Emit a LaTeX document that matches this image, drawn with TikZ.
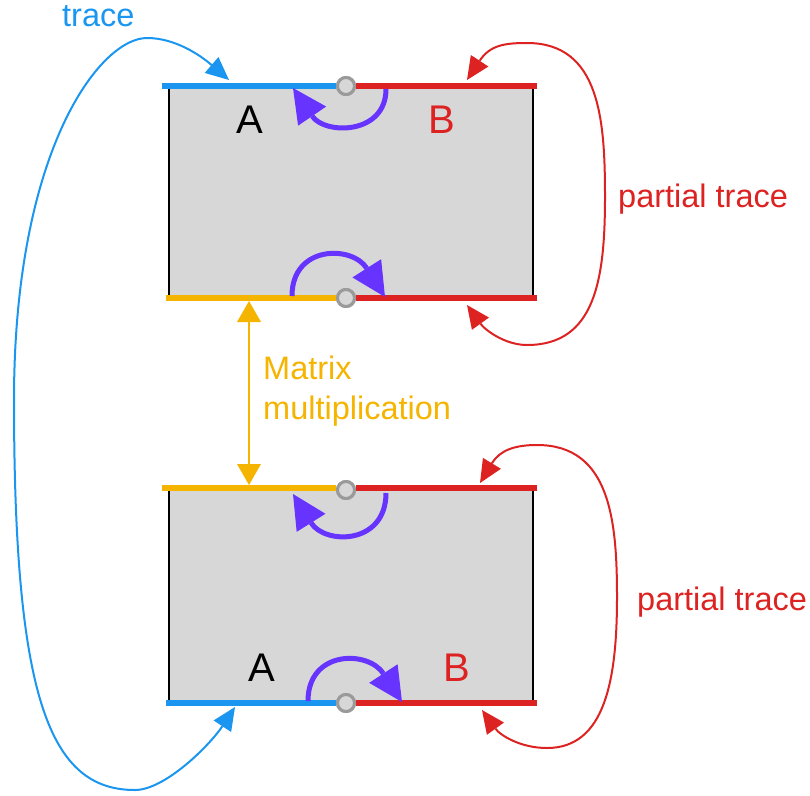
\documentclass[tikz,border=0pt]{standalone}
\usepackage{fontspec}
\setmainfont{Liberation Sans}
\usetikzlibrary{arrows.meta}

\definecolor{traceblue}{HTML}{1A96F0}
\definecolor{ptred}{HTML}{DD2222}
\definecolor{mmyellow}{HTML}{F5B400}
\definecolor{swapviolet}{HTML}{6633FF}
\definecolor{boxgray}{HTML}{D7D7D7}
\definecolor{ringgray}{HTML}{9A9A9A}

\begin{document}
\begin{tikzpicture}[x=1pt,y=-1pt,
  box/.style={fill=boxgray, draw=none},
  side/.style={black, line width=2pt},
  wire/.style={line width=5.5pt},
  ring/.style={circle, draw=ringgray, line width=3pt, fill=boxgray,
               minimum size=17pt, inner sep=0pt},
  lbl/.style={inner sep=0pt, font=\fontsize{32.5}{38}\selectfont},
  sys/.style={inner sep=0pt, font=\fontsize{40}{40}\selectfont},
  thinloop/.style={line width=2pt,
    {Triangle[length=23pt,width=21pt,line width=0pt]}-{Triangle[length=23pt,width=21pt,line width=0pt]}},
  swaparrow/.style={swapviolet, line width=5pt,
    -{Triangle[length=34pt,width=34pt,line width=0pt]}},
]
\useasboundingbox (0,0) rectangle (810,795);

% ---- upper operator ----
\fill[box] (169,86) rectangle (533,298);
\draw[side] (169,86) -- (169,298);
\draw[side] (533,86) -- (533,298);
\node[ring] (r1) at (346,86) {};
\node[ring] (r2) at (346,298) {};
\coordinate (u1l) at (162,86);  \coordinate (u1r) at (537,86);
\coordinate (d1l) at (166,298); \coordinate (d1r) at (537,298);
\draw[wire, traceblue] (u1l) -- (r1.west);
\draw[wire, ptred] (r1.east) -- (u1r);
\draw[wire, mmyellow] (d1l) -- (r2.west);
\draw[wire, ptred] (r2.east) -- (d1r);
\node[ring] at (r1) {};
\node[ring] at (r2) {};

% ---- lower operator ----
\fill[box] (169,488) rectangle (533,703);
\draw[side] (169,488) -- (169,703);
\draw[side] (533,488) -- (533,703);
\node[ring] (r3) at (346,490) {};
\node[ring] (r4) at (346,703) {};
\coordinate (u2l) at (162,488); \coordinate (u2r) at (537,488);
\coordinate (d2l) at (166,703); \coordinate (d2r) at (537,703);
\draw[wire, mmyellow] (u2l) -- (r3.west |- u2l);
\draw[wire, ptred] (r3.east |- u2r) -- (u2r);
\draw[wire, traceblue] (d2l) -- (r4.west);
\draw[wire, ptred] (r4.east) -- (d2r);
\node[ring] at (r3) {};
\node[ring] at (r4) {};

% ---- subsystem labels ----
\node[sys, anchor=base] (a1) at (250,133) {A};
\node[sys, anchor=base, ptred] (b1) at (442,133) {B};
\node[sys, anchor=base] (a2) at (262,681) {A};
\node[sys, anchor=base, ptred] (b2) at (457,681) {B};

% ---- swap arrows ----
\draw[swaparrow] (386,89) .. controls (386,135) and (325,135) .. (293,88);
\draw[swaparrow] (292,296) .. controls (292,245) and (352,245) .. (385,297);
\draw[swaparrow] (386,493) .. controls (386,545) and (325,545) .. (293,494);
\draw[swaparrow] (308,701) .. controls (308,650) and (368,650) .. (402,702);

% ---- trace ----
\coordinate (tA) at (229,80);
\coordinate (tB) at (235,707);
\draw[thinloop, traceblue] (tA) .. controls (200,55) and (175,38) .. (147,38)
  .. controls (100,38) and (14,150) .. (14,400)
  .. controls (14,700) and (50,790) .. (135,790)
  .. controls (165,790) and (210,745) .. (tB);
\node[lbl, traceblue, anchor=base west] (ttr) at (62,26) {trace};

% ---- partial traces ----
\coordinate (p1a) at (467,80);
\coordinate (p1b) at (467,305);
\draw[thinloop, ptred] (p1a) .. controls (490,45) and (505,43) .. (527,43)
  .. controls (600,43) and (605,120) .. (605,197)
  .. controls (605,280) and (595,345) .. (527,345)
  .. controls (505,345) and (485,330) .. (p1b);
\node[lbl, ptred, anchor=base west] (pt1) at (618,207) {partial trace};

\coordinate (p2a) at (480,483);
\coordinate (p2b) at (482,710);
\draw[thinloop, ptred] (p2a) .. controls (500,450) and (515,445) .. (537,445)
  .. controls (610,445) and (617,520) .. (617,597)
  .. controls (617,680) and (605,748) .. (547,748)
  .. controls (520,748) and (500,735) .. (p2b);
\node[lbl, ptred, anchor=base west] (pt2) at (637,610) {partial trace};

% ---- matrix multiplication ----
\coordinate (m1) at (249,301);
\coordinate (m2) at (249,485);
\draw[mmyellow, line width=2.5pt,
  {Triangle[length=21pt,width=24pt,line width=0pt]}-{Triangle[length=21pt,width=24pt,line width=0pt]}]
  (m1) -- (m2);
\node[lbl, mmyellow, anchor=base west] (mm1) at (263,379) {Matrix};
\node[lbl, mmyellow, anchor=base west] (mm2) at (263,419) {multiplication};
\end{tikzpicture}
\end{document}
